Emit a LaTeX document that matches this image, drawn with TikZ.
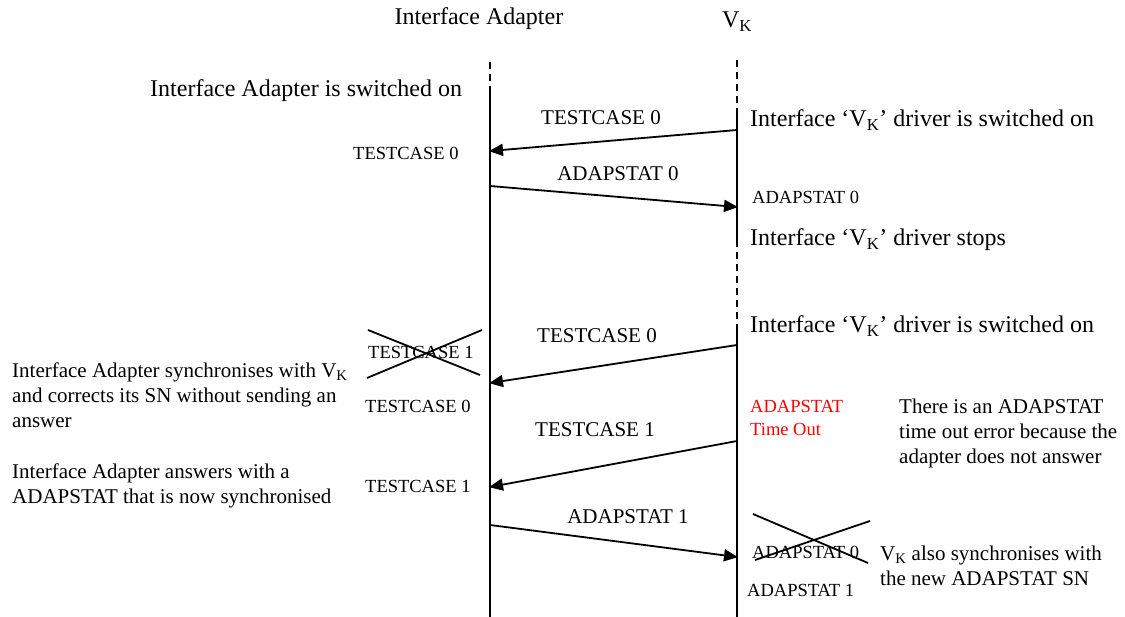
\documentclass[tikz,border=0pt]{standalone}
\usepackage{fontspec}
\setmainfont{Liberation Serif}
\usetikzlibrary{arrows.meta,positioning}

\begin{document}
\begin{tikzpicture}[x=1pt,y=-1pt,>={Triangle[length=14pt,width=12pt]},
	msg/.style={->,line width=1.8pt,shorten >=-1pt},
	life/.style={line width=1.8pt},
	lifedash/.style={line width=1.8pt,dash pattern=on 7pt off 5pt},
	big/.style={font=\fontsize{24}{28}\selectfont,inner sep=0pt},
	lbl/.style={font=\fontsize{21}{25}\selectfont,inner sep=0pt},
	note/.style={font=\fontsize{21}{25}\selectfont,inner sep=0pt,anchor=west,align=left},
	small/.style={font=\fontsize{18.5}{23}\selectfont,inner sep=0pt,anchor=west},
	crossline/.style={line width=1.8pt}]
	\useasboundingbox (0,0) rectangle (1125,617);

	% heads
	\node[big] (ia) at (479,19) {Interface Adapter};
	\node[big] (vk) at (737,22) {V\textsubscript{K}};

	% lifelines
	\coordinate (ia top) at (490,62);
	\coordinate (ia on)  at (490,93);
	\coordinate (ia end) at (490,617);
	\coordinate (vk top) at (737,60);
	\coordinate (vk on)  at (737,110);
	\coordinate (vk off) at (737,240);
	\coordinate (vk on2) at (737,325);
	\coordinate (vk end) at (737,617);
	\draw[lifedash] (ia top) -- (ia on);
	\draw[life]     (ia on) -- (ia end);
	\draw[lifedash] (vk top) -- (vk on);
	\draw[life]     (vk on) -- (vk off);
	\draw[lifedash] (vk off) -- (vk on2);
	\draw[life]     (vk on2) -- (vk end);

	% message points
	\coordinate (m1s) at (737,130); \coordinate (m1e) at (490,151);
	\coordinate (m2s) at (490,186); \coordinate (m2e) at (737,207);
	\coordinate (m3s) at (737,345); \coordinate (m3e) at (490,383);
	\coordinate (m4s) at (737,441); \coordinate (m4e) at (490,487);
	\coordinate (m5s) at (490,525); \coordinate (m5e) at (737,557);

	\draw[msg] (m1s) -- (m1e);
	\draw[msg] (m2s) -- (m2e);
	\draw[msg] (m3s) -- (m3e);
	\draw[msg] (m4s) -- (m4e);
	\draw[msg] (m5s) -- (m5e);

	\node[lbl] (l1) at (601,118) {TESTCASE 0};
	\node[lbl] (l2) at (618,174) {ADAPSTAT 0};
	\node[lbl] (l3) at (597,336) {TESTCASE 0};
	\node[lbl] (l4) at (595,430) {TESTCASE 1};
	\node[lbl] (l5) at (628,517) {ADAPSTAT 1};

	% adapter side
	\node[big,anchor=west] (iaon) at (150,91) {Interface Adapter is switched on};
	\node[small] (ia tc0) at (353,153) {TESTCASE 0};
	\node[small] (ia tc1x) at (368,352) {TESTCASE 1};
	\draw[crossline] (368,330) -- (480,375);
	\draw[crossline] (367,378) -- (482,330);
	\node[small] (ia tc0b) at (365,406) {TESTCASE 0};
	\node[small] (ia tc1) at (365,486) {TESTCASE 1};
	\node[note] (sync) at (12,395) {Interface Adapter synchronises with V\textsubscript{K}\\
		and corrects its SN without sending an\\answer};
	\node[note] (answ) at (12,486) {Interface Adapter answers with a\\
		ADAPSTAT that is now synchronised};

	% VK side
	\node[big,anchor=west] (vkon) at (750,120) {Interface `V\textsubscript{K}' driver is switched on};
	\node[small] (vk as0) at (752,197) {ADAPSTAT 0};
	\node[big,anchor=west] (vkstop) at (750,240) {Interface `V\textsubscript{K}' driver stops};
	\node[big,anchor=west] (vkon2) at (750,326) {Interface `V\textsubscript{K}' driver is switched on};
	\node[small,text=red,align=left] (tout) at (750,418) {ADAPSTAT\\Time Out};
	\node[note] (err) at (899,433) {There is an ADAPSTAT\\
		time out error because the\\adapter does not answer};
	\node[small] (vk as0x) at (752,552) {ADAPSTAT 0};
	\draw[crossline] (753,514) -- (868,563);
	\draw[crossline] (755,560) -- (870,521);
	\node[small] (vk as1) at (747,590) {ADAPSTAT 1};
	\node[note] (vksync) at (880,566) {V\textsubscript{K} also synchronises with\\
		the new ADAPSTAT SN};
\end{tikzpicture}
\end{document}
